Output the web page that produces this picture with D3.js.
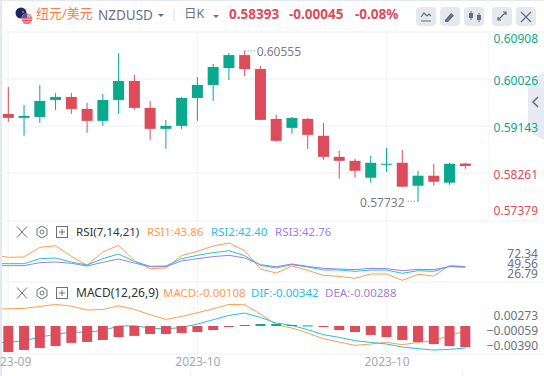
<!DOCTYPE html>
<html>
<head>
<meta charset="utf-8">
<script src="https://cdn.jsdelivr.net/npm/d3@7"></script>
<style>
  html, body { margin: 0; padding: 0; background: #fff; overflow: hidden; }
  svg { display: block; }
  text { font-family: "Noto Sans", "Noto Sans CJK SC", sans-serif; }
  .axis path, .axis line { display: none; }
</style>
</head>
<body>
<div id="chart"></div>
<script>
const opens = [0.59371, 0.59296, 0.59314, 0.59633, 0.59689, 0.59464, 0.59240, 0.59633, 0.59989, 0.59483, 0.59090, 0.59146, 0.59670, 0.59914, 0.60232, 0.60475, 0.60213, 0.59277, 0.59108, 0.59277, 0.58959, 0.58565, 0.58490, 0.58172, 0.58416, 0.58453, 0.58022, 0.58210, 0.58079, 0.58438];
const highs = [0.59876, 0.59539, 0.59914, 0.59764, 0.59764, 0.59577, 0.59745, 0.60513, 0.60101, 0.59614, 0.59258, 0.59689, 0.60063, 0.60307, 0.60513, 0.60555, 0.60269, 0.59352, 0.59314, 0.59296, 0.59202, 0.58678, 0.58528, 0.58584, 0.58734, 0.58696, 0.58303, 0.58434, 0.58453, 0.58453];
const lows = [0.59221, 0.58959, 0.59202, 0.59445, 0.59371, 0.59015, 0.59146, 0.59371, 0.59445, 0.58884, 0.58715, 0.59090, 0.59240, 0.59614, 0.60007, 0.60082, 0.59258, 0.58846, 0.58996, 0.58715, 0.58509, 0.58153, 0.58172, 0.58079, 0.58284, 0.58004, 0.57732, 0.58022, 0.58041, 0.58341];
const closes = [0.59296, 0.59333, 0.59614, 0.59689, 0.59464, 0.59240, 0.59633, 0.59989, 0.59483, 0.59090, 0.59146, 0.59670, 0.59914, 0.60251, 0.60475, 0.60213, 0.59258, 0.58865, 0.59296, 0.58977, 0.58565, 0.58490, 0.58303, 0.58453, 0.58434, 0.58004, 0.58210, 0.58097, 0.58434, 0.58393];
const macdBars = [-0.00134, -0.00123, -0.00113, -0.00103, -0.00087, -0.00082, -0.00072, -0.00057, -0.00051, -0.00041, -0.00041, -0.00036, -0.00031, -0.00021, -0.00005, 0.00005, 0.0001, 0.0001, 0.00005, 0.00003, -0.00005, -0.00021, -0.00031, -0.00046, -0.00057, -0.00072, -0.00082, -0.00093, -0.00103, -0.00108];

// line series start one day before the first visible candle
const rsi1 = [70.8, 64.75, 65.5, 87.5, 91.3, 67.0, 46.5, 76.9, 92.1, 57.2, 38.9, 40.5, 68.5, 78.4, 90.6, 97.4, 79.9, 38.2, 29.1, 45.0, 35.1, 23.7, 21.5, 16.9, 26.8, 26.8, 12.4, 26.0, 22.2, 46.5, 43.86];
const rsi2 = [50.3, 50.3, 50.3, 61.7, 63.2, 54.1, 47.3, 61.7, 72.3, 55.6, 44.2, 45.0, 61.7, 69.3, 75.4, 79.9, 68.5, 46.5, 40.5, 48.0, 42.7, 35.9, 35.9, 32.9, 35.9, 35.9, 28.3, 34.4, 32.9, 44.2, 42.40];
const rsi3 = [45.8, 45.8, 45.8, 52.6, 54.1, 51.1, 45.0, 53.4, 60.9, 51.8, 43.5, 43.5, 56.4, 61.7, 66.3, 69.3, 63.2, 48.0, 43.5, 49.6, 44.2, 39.7, 38.2, 36.7, 39.7, 38.9, 34.4, 37.4, 36.7, 43.5, 42.76];
const macdLine = [0.00419, 0.00426, 0.00434, 0.00478, 0.00522, 0.00485, 0.00397, 0.00412, 0.00493, 0.00412, 0.00294, 0.00191, 0.00257, 0.00338, 0.00426, 0.00522, 0.00515, 0.00309, 0.00073, 0.0, -0.0011, -0.00236, -0.00309, -0.00383, -0.00353, -0.00316, -0.00368, -0.00316, -0.0028, -0.00162, -0.00074];
const difLine = [-0.00331, -0.00316, -0.0028, -0.00206, -0.00133, -0.00096, -0.00088, -0.00052, 0.00044, 0.00051, 0.0, -0.00022, 0.00015, 0.00088, 0.00184, 0.00279, 0.00331, 0.00235, 0.0011, 0.00059, -0.00037, -0.00147, -0.00206, -0.0028, -0.00316, -0.00353, -0.00419, -0.00456, -0.00486, -0.00471, -0.00442];

const priceTicks = [0.60908, 0.60026, 0.59143, 0.58261, 0.57379];
const rsiTicks = [72.34, 49.56, 26.79];
const macdTicks = [0.00273, -0.00059, -0.0039];
const dateTicks = [0, 12, 24];
const dateLabels = ["2023-09", "2023-10", "2023-10"];

const width = 544;
const height = 376;
const green = "#0aa88c";
const red = "#dc4c5a";
const orange = "#ff9d4d";
const cyan = "#27c1dd";
const purple = "#9d7fe0";
const gridColor = "#f4f5f9";
const grayText = "#6b7180";

const svg = d3.select("#chart").append("svg").attr("width", width).attr("height", height);

const x = d3.scaleLinear().domain([0, 29]).range([8.3, 465.3]);
const yPrice = d3.scaleLinear().domain([0.60026, 0.58261]).range([79, 173]);
const yRsi = d3.scaleLinear().domain([72.34, 26.79]).range([254, 274]);
const yMacd = d3.scaleLinear().domain([0.00273, -0.0039]).range([315.7, 345.7]);
const yBars = d3.scaleLinear().domain([0, -0.00108]).range([326, 347]);

svg.append("clipPath").attr("id", "plot").append("rect")
  .attr("x", 2).attr("y", 32).attr("width", 487).attr("height", 322);

// page frame
svg.append("rect").attr("width", 2).attr("height", height).attr("fill", "#e4e8f1");
svg.append("rect").attr("width", width).attr("height", 1).attr("fill", "#e4e8f1");

// grid
const grid = svg.append("g");
[32, 79, 126, 173, 221, 282, 354].forEach((y) => {
  grid.append("line").attr("x1", 3).attr("x2", width).attr("y1", y).attr("y2", y)
    .attr("stroke", gridColor).attr("stroke-width", 1.5);
});
dateTicks.forEach((d) => {
  grid.append("line").attr("x1", x(d)).attr("x2", x(d)).attr("y1", 32).attr("y2", 354)
    .attr("stroke", gridColor).attr("stroke-width", 1.5);
});
grid.append("line").attr("x1", 489).attr("x2", 489).attr("y1", 32).attr("y2", 221)
  .attr("stroke", gridColor).attr("stroke-width", 1);
[190.7, 462.7].forEach((d) => {
  grid.append("line").attr("x1", d).attr("x2", d).attr("y1", 371).attr("y2", 376)
    .attr("stroke", "#eeeff3");
});

// side tab goes under the axis labels
svg.append("path").attr("d", "M528,87L544,71V140L528,131Z").attr("fill", "#e8eaf1");
svg.append("path").attr("d", "M538,97L533,102L538,107").attr("fill", "none")
  .attr("stroke", grayText).attr("stroke-width", 1.6);

// candles
const candles = d3.range(opens.length);
const candleColor = (i) => (closes[i] >= opens[i] ? green : red);
const candleG = svg.append("g");
candleG.selectAll("line").data(candles).join("line")
  .attr("x1", (i) => x(i)).attr("x2", (i) => x(i))
  .attr("y1", (i) => yPrice(highs[i])).attr("y2", (i) => yPrice(lows[i]))
  .attr("stroke", candleColor).attr("stroke-width", 1);
candleG.selectAll("rect").data(candles).join("rect")
  .attr("x", (i) => x(i) - 5.5).attr("width", 11)
  .attr("y", (i) => yPrice(Math.max(opens[i], closes[i])))
  .attr("height", (i) => Math.max(1, Math.abs(yPrice(opens[i]) - yPrice(closes[i]))))
  .attr("fill", candleColor);

// high / low notes
const noteColor = "#777d8c";
const highIdx = d3.maxIndex(highs);
const lowIdx = d3.minIndex(lows);
svg.append("line").attr("x1", x(highIdx)).attr("x2", x(highIdx) + 10)
  .attr("y1", yPrice(highs[highIdx])).attr("y2", yPrice(highs[highIdx]))
  .attr("stroke", noteColor).attr("stroke-dasharray", "1,2");
svg.append("text").attr("x", x(highIdx) + 12).attr("y", yPrice(highs[highIdx]) + 2)
  .attr("dominant-baseline", "middle").attr("font-size", 12).attr("fill", noteColor)
  .text(highs[highIdx].toFixed(5));
svg.append("line").attr("x1", x(lowIdx) - 10).attr("x2", x(lowIdx))
  .attr("y1", yPrice(lows[lowIdx])).attr("y2", yPrice(lows[lowIdx]))
  .attr("stroke", noteColor).attr("stroke-dasharray", "1,2");
svg.append("text").attr("x", x(lowIdx) - 13.5).attr("y", yPrice(lows[lowIdx]) + 2.5)
  .attr("text-anchor", "end").attr("dominant-baseline", "middle")
  .attr("font-size", 12).attr("fill", noteColor)
  .text(lows[lowIdx].toFixed(5));

// indicator lines
const lineG = svg.append("g").attr("clip-path", "url(#plot)");
function drawLine(values, scale, color) {
  const line = d3.line().x((d, i) => x(i - 1)).y((d) => scale(d));
  lineG.append("path").attr("d", line(values)).attr("fill", "none")
    .attr("stroke", color).attr("stroke-width", 1);
}
drawLine(rsi1, yRsi, orange);
drawLine(rsi2, yRsi, cyan);
drawLine(rsi3, yRsi, purple);
drawLine(macdLine, yMacd, orange);
drawLine(difLine, yMacd, cyan);

// macd bars sit over the lines
svg.append("g").selectAll("rect").data(macdBars).join("rect")
  .attr("x", (d, i) => x(i) - 5).attr("width", 10)
  .attr("y", (d) => Math.min(yBars(d), yBars(0)))
  .attr("height", (d) => Math.max(1, Math.abs(yBars(d) - yBars(0))))
  .attr("fill", (d) => (d >= 0 ? green : red));

// right axes
const priceAxis = svg.append("g").attr("class", "axis")
  .attr("transform", "translate(538,0)")
  .call(d3.axisLeft(yPrice).tickValues(priceTicks).tickSize(0).tickFormat(d3.format(".5f")));
priceAxis.selectAll(".tick")
  .attr("transform", (d) => `translate(0,${Math.min(211, Math.max(39.5, yPrice(d) + 2))})`);
priceAxis.selectAll("text")
  .attr("font-size", 12).attr("fill", (d) => (d > 0.585 ? green : red));

const rsiAxis = svg.append("g").attr("class", "axis")
  .attr("transform", "translate(538,0)")
  .call(d3.axisLeft(yRsi).tickValues(rsiTicks).tickSize(0).tickFormat(d3.format(".2f")));
rsiAxis.selectAll("text").attr("font-size", 12).attr("fill", grayText);

const macdAxis = svg.append("g").attr("class", "axis")
  .attr("transform", "translate(538,0)")
  .call(d3.axisLeft(yMacd).tickValues(macdTicks).tickSize(0).tickFormat(d3.format(".5f")));
macdAxis.selectAll("text").attr("font-size", 12).attr("fill", grayText);

svg.selectAll(".axis text").attr("x", 0).attr("font-family", null);

// date axis
const dateAxis = svg.append("g").attr("class", "axis")
  .attr("transform", "translate(0,354)")
  .call(d3.axisBottom(x).tickValues(dateTicks).tickSize(0)
    .tickFormat((d, i) => dateLabels[i]));
dateAxis.selectAll("text").attr("font-size", 12).attr("fill", "#a4a8b8").attr("dy", "0.75em").attr("y", 3);

// header
function label(text, px, py, size, color, weight) {
  svg.append("text").attr("x", px).attr("y", py).attr("dominant-baseline", "middle")
    .attr("font-size", size).attr("fill", color).attr("font-weight", weight || 400).text(text);
}
svg.append("circle").attr("cx", 21).attr("cy", 13).attr("r", 5.5).attr("fill", "#1b2a5e");
svg.append("circle").attr("cx", 23).attr("cy", 12).attr("r", 1.2).attr("fill", "#d9414e");
svg.append("circle").attr("cx", 27).attr("cy", 18.5).attr("r", 5.5).attr("fill", "#e9a3a8");
svg.append("path").attr("d", "M22,18h10M22,20.5h10M23,23h8").attr("stroke", "#d9414e").attr("stroke-width", 0.8);
svg.append("path").attr("d", "M22.2,17a5.5,5.5 0 0 1 4.8,-4v5h-4.8z").attr("fill", "#4a5a96");
label("纽元/美元", 36, 15, 13, "#ff7a45");
label("NZDUSD", 98, 16, 13.5, grayText);
svg.append("path").attr("d", "M158,14h6l-3,3z").attr("fill", grayText);
svg.append("line").attr("x1", 174).attr("x2", 174).attr("y1", 9).attr("y2", 21).attr("stroke", "#d5d8e0");
label("日K", 184, 15, 12.5, grayText);
svg.append("path").attr("d", "M213,15h6l-3,3z").attr("fill", grayText);
label("0.58393", 229, 15, 13.5, red, 700);
label("-0.00045", 289, 15, 13.5, red, 700);
label("-0.08%", 355, 15, 13.5, red, 700);

// toolbar buttons
const buttons = [416, 440, 464, 492, 516];
svg.append("g").selectAll("rect").data(buttons).join("rect")
  .attr("x", (d) => d).attr("y", 7).attr("width", 20).attr("height", 19).attr("rx", 4)
  .attr("fill", "#e6e8ef");
const icon = svg.append("g").attr("fill", "none").attr("stroke", "#666d7c").attr("stroke-width", 1.2);
icon.append("path").attr("d", "M421,17l3,-4l3,3l2,-2l2,2M421,21h10");
icon.append("path").attr("d", "M445,20l6,-7l3,2.5l-6,6.5h-3zM444,22.5h11").attr("fill", "#666d7c").attr("stroke", "none");
icon.append("path").attr("d", "M471,11v9M479,13v9").attr("stroke-width", 1);
icon.append("rect").attr("x", 469).attr("y", 13).attr("width", 4).attr("height", 5).attr("fill", "#666d7c").attr("stroke", "none");
icon.append("rect").attr("x", 477).attr("y", 15).attr("width", 4).attr("height", 5).attr("fill", "#666d7c").attr("stroke", "none");
icon.append("path").attr("d", "M498,20l8,-8M503,12h3v3M498,17v3h3");
icon.append("path").attr("d", "M521,12l10,10M531,12l-10,10");

// pane legends
function paneIcons(py) {
  const g = svg.append("g").attr("fill", "none").attr("stroke", "#6b7180").attr("stroke-width", 1);
  g.append("path").attr("d", `M17,${py - 5.5}l10,11M27,${py - 5.5}l-10,11`);
  g.append("path").attr("d", `M42,${py - 6}l5,3v6l-5,3l-5,-3v-6z`);
  g.append("circle").attr("cx", 42).attr("cy", py).attr("r", 2);
  g.append("rect").attr("x", 56.5).attr("y", py - 5.5).attr("width", 11).attr("height", 11);
  g.append("path").attr("d", `M59,${py}h6M62,${py - 3}v6`);
}
paneIcons(232);
label("RSI(7,14,21)", 76, 232.5, 11.5, "#333");
label("RSI1:43.86", 147, 232.5, 11.5, orange);
label("RSI2:42.40", 211, 232.5, 11.5, cyan);
label("RSI3:42.76", 275, 232.5, 11.5, purple);
paneIcons(293);
label("MACD(12,26,9)", 76, 293.5, 12, "#333");
label("MACD:-0.00108", 163, 293.5, 11.5, orange);
label("DIF:-0.00342", 251, 293.5, 11.5, cyan);
label("DEA:-0.00288", 325, 293.5, 11.5, purple);
</script>
</body>
</html>
